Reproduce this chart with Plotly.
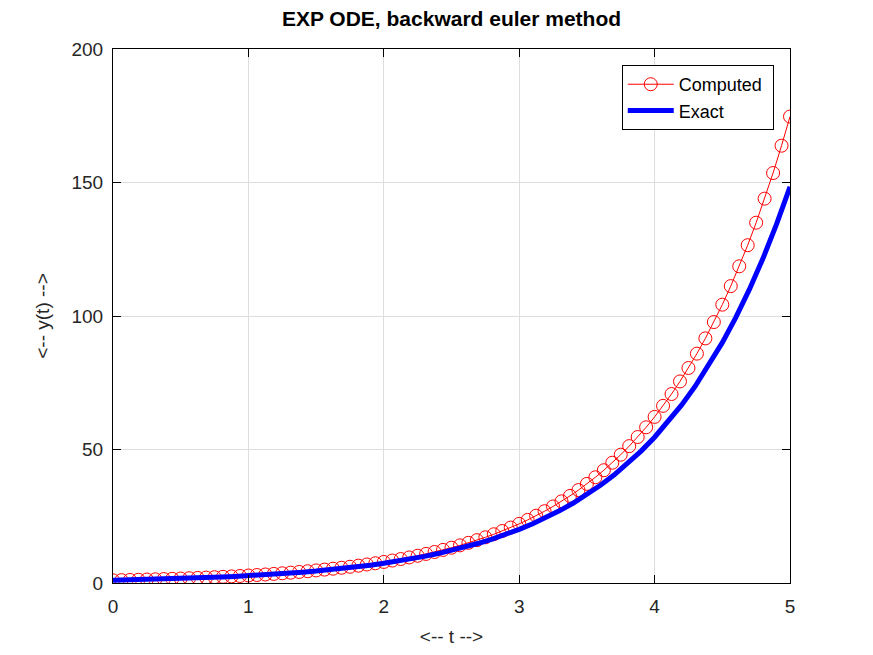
import plotly.graph_objects as go

# Computed solution (backward Euler, h = 0.0625)
t_computed = [i * 0.0625 for i in range(81)]
y_computed = [
    1.0000, 1.0667, 1.1378, 1.2136, 1.2945, 1.3808, 1.4729, 1.5711, 1.6758, 1.7875,
    1.9067, 2.0338, 2.1694, 2.3140, 2.4683, 2.6329, 2.8084, 2.9956, 3.1953, 3.4084,
    3.6355, 3.8779, 4.1364, 4.4122, 4.7064, 5.0201, 5.3548, 5.7118, 6.0926, 6.4988,
    6.9320, 7.3941, 7.8871, 8.4129, 8.9737, 9.5720, 10.2101, 10.8908, 11.6169, 12.3913,
    13.2174, 14.0986, 15.0385, 16.0411, 17.1105, 18.2512, 19.4680, 20.7658, 22.1502, 23.6269,
    25.2020, 26.8821, 28.6742, 30.5858, 32.6249, 34.7999, 37.1199, 39.5945, 42.2342, 45.0498,
    48.0531, 51.2566, 54.6737, 58.3186, 62.2065, 66.3536, 70.7772, 75.4957, 80.5287, 85.8973,
    91.6238, 97.7320, 104.2475, 111.1973, 118.6105, 126.5179, 134.9524, 143.9492, 153.5458, 163.7822,
    174.7010,
]

# Exact solution
t_exact = [i * 0.1 for i in range(51)]
y_exact = [
    1.0000, 1.1052, 1.2214, 1.3499, 1.4918, 1.6487, 1.8221, 2.0138, 2.2255, 2.4596, 2.7183,
    3.0042, 3.3201, 3.6693, 4.0552, 4.4817, 4.9530, 5.4739, 6.0496, 6.6859, 7.3891,
    8.1662, 9.0250, 9.9742, 11.0232, 12.1825, 13.4637, 14.8797, 16.4446, 18.1741, 20.0855,
    22.1980, 24.5325, 27.1126, 29.9641, 33.1155, 36.5982, 40.4473, 44.7012, 49.4024, 54.5982,
    60.3403, 66.6863, 73.6998, 81.4509, 90.0171, 99.4843, 109.9472, 121.5104, 134.2898, 148.4132,
]

x_ticks = [0, 1, 2, 3, 4, 5]
y_ticks = [0, 50, 100, 150, 200]

FONT = "Liberation Sans, Arial, sans-serif"

fig = go.Figure()
fig.add_trace(go.Scatter(
    x=t_computed, y=y_computed, mode="lines+markers", name="Computed ",
    line=dict(color="red", width=1),
    marker=dict(symbol="circle-open", size=13, color="red", line=dict(width=1, color="red")),
))
fig.add_trace(go.Scatter(
    x=t_exact, y=y_exact, mode="lines", name="Exact",
    line=dict(color="blue", width=5),
))

axis_common = dict(
    showline=True, linecolor="black", linewidth=1, mirror="ticks",
    ticks="inside", ticklen=8, tickcolor="black",
    showgrid=True, gridcolor="#dedede", gridwidth=1,
    zeroline=False,
    tickfont=dict(family=FONT, size=19, color="#262626"),
)

fig.update_layout(
    width=873, height=655,
    paper_bgcolor="white", plot_bgcolor="white",
    margin=dict(l=105, r=91, t=41, b=80),
    title=dict(text="<b>EXP ODE, backward euler method</b>", x=0.5, xanchor="center",
               xref="paper", yref="container",
               y=1 - 3 / 655, yanchor="top", pad=dict(t=0, b=0),
               font=dict(family=FONT, size=21, color="black")),
    xaxis=dict(range=[0, 5], tickvals=x_ticks, ticklabelstandoff=6,
               title=dict(text="<-- t -->", font=dict(family=FONT, size=19, color="#262626"), standoff=13),
               **axis_common),
    yaxis=dict(range=[0, 200], tickvals=y_ticks, ticklabelstandoff=5,
               title=dict(text="<-- y(t) -->", font=dict(family=FONT, size=19, color="#262626"), standoff=16),
               **axis_common),
    legend=dict(x=0.976, y=0.970, xanchor="right", yanchor="top",
                bordercolor="black", borderwidth=1, bgcolor="white",
                font=dict(family=FONT, size=18, color="black"),
                itemwidth=46, tracegroupgap=2),
    showlegend=True,
)

fig.write_html("out.html")
